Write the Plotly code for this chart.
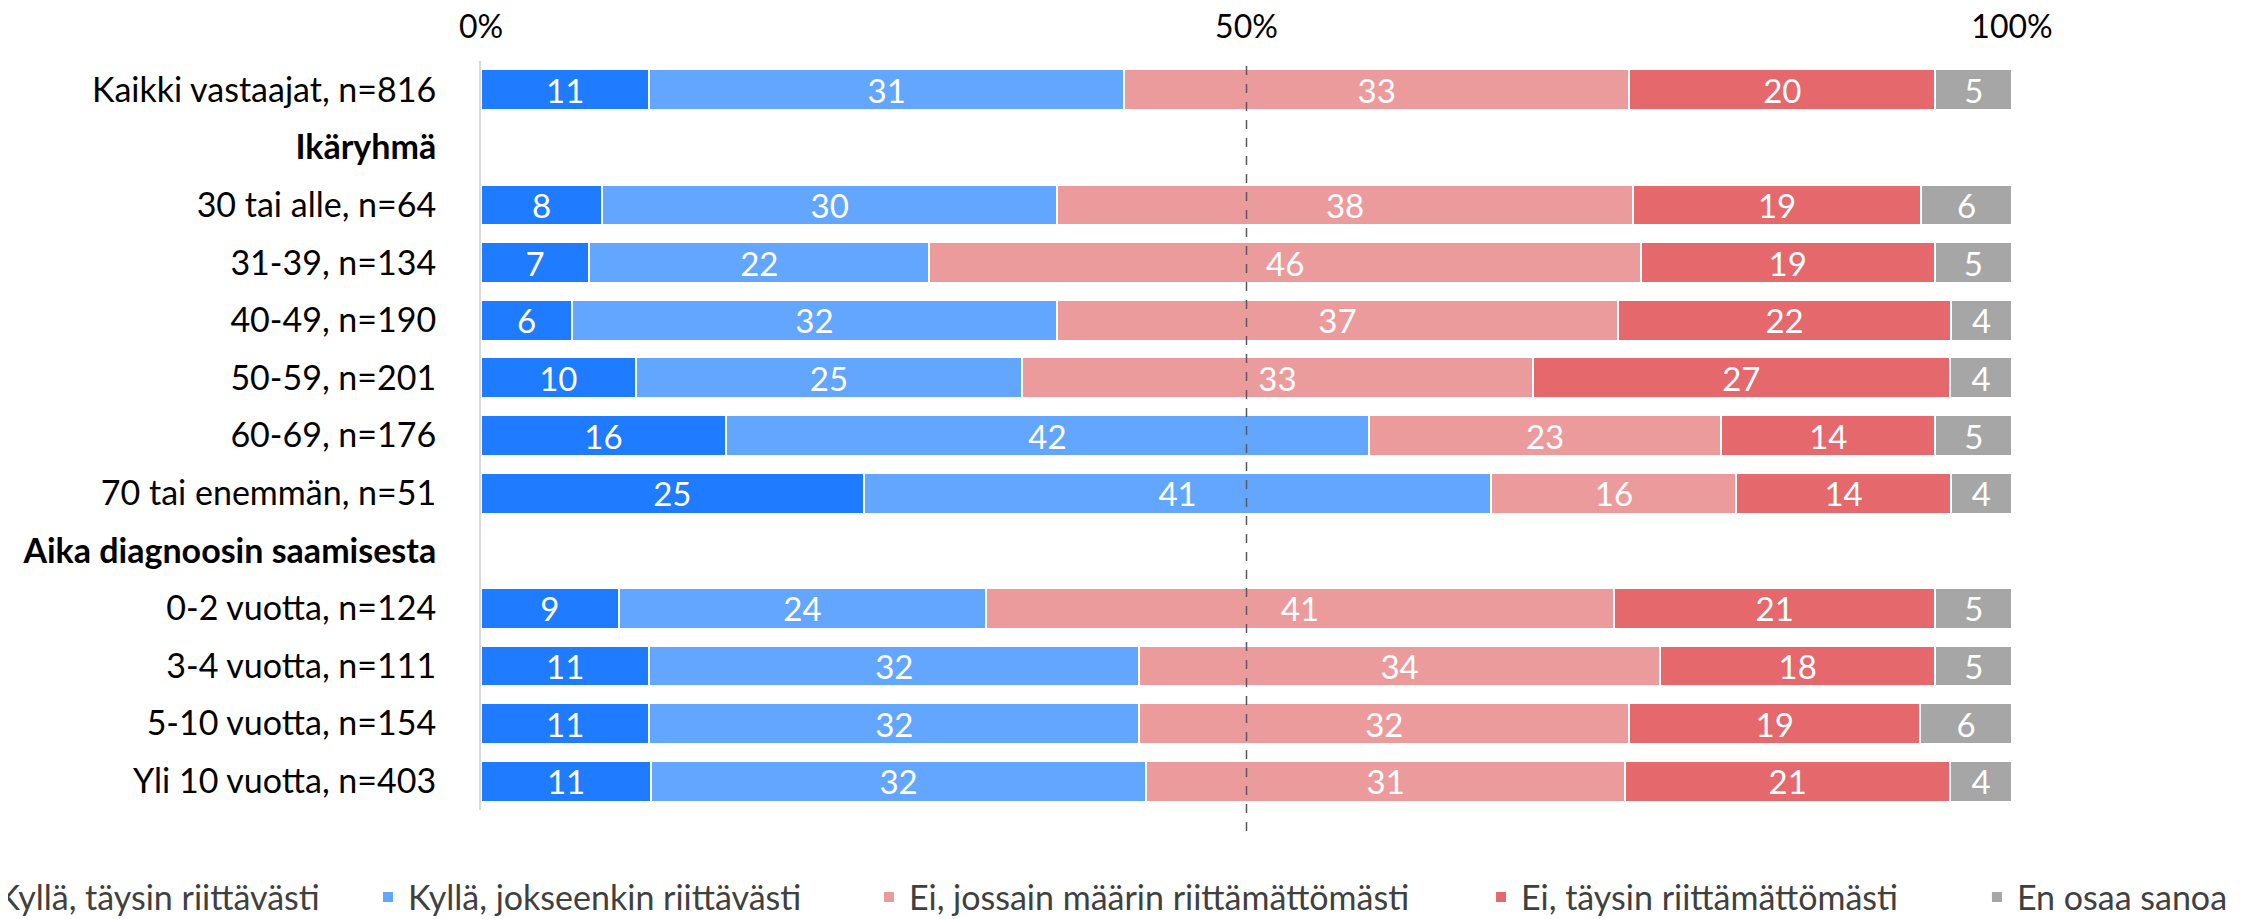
import plotly.graph_objects as go

categories = ['Kaikki vastaajat, n=816', '<b>Ikäryhmä</b>', '30 tai alle, n=64', '31-39, n=134',
              '40-49, n=190', '50-59, n=201', '60-69, n=176', '70 tai enemmän, n=51',
              '<b>Aika diagnoosin saamisesta</b>', '0-2 vuotta, n=124', '3-4 vuotta, n=111',
              '5-10 vuotta, n=154', 'Yli 10 vuotta, n=403']

series_names = ['Kyllä, täysin riittävästi', 'Kyllä, jokseenkin riittävästi',
                'Ei, jossain määrin riittämättömästi', 'Ei, täysin riittämättömästi', 'En osaa sanoa']

taysin_kylla = [11, None, 8, 7, 6, 10, 16, 25, None, 9, 11, 11, 11]
jokseenkin_kylla = [31, None, 30, 22, 32, 25, 42, 41, None, 24, 32, 32, 32]
jossain_ei = [33, None, 38, 46, 37, 33, 23, 16, None, 41, 34, 32, 31]
taysin_ei = [20, None, 19, 19, 22, 27, 14, 14, None, 21, 18, 19, 21]
eos = [5, None, 6, 5, 4, 4, 5, 4, None, 5, 5, 6, 4]

x_ticks = [0, 50, 100]
x_labels = ['0%', '50%', '100%']

colors = ['#1f7bff', '#63a6ff', '#ec9b9d', '#e4686c', '#a6a6a6']
FONT = 'Lato, Calibri, sans-serif'
# one legend per series so every entry sits where it does in the original
legend_ids = ['legend', 'legend2', 'legend3', 'legend4', 'legend5']
legend_x = [-0.342, -0.0738, 0.2534, 0.6532, 0.9771]

fig = go.Figure()
for name, vals, col, lg in zip(series_names, [taysin_kylla, jokseenkin_kylla, jossain_ei, taysin_ei, eos],
                               colors, legend_ids):
    fig.add_trace(go.Bar(
        name=name, y=categories, x=vals, orientation='h', legend=lg, showlegend=True,
        marker=dict(color=col, line=dict(color='white', width=2)),
        text=[str(v) if v is not None else '' for v in vals],
        textposition='inside', insidetextanchor='middle', constraintext='none', textangle=0,
        textfont=dict(color='white', size=33, family=FONT),
        hoverinfo='skip',
    ))

fig.add_shape(type='line', xref='x', yref='paper', x0=50, x1=50, y0=-0.028, y1=0.995,
              line=dict(color='#595959', width=1.5, dash='dash'))

fig.update_layout(
    barmode='stack', barnorm='percent', bargap=0.29, showlegend=True,
    width=2248, height=919,
    margin=dict(l=473, r=244, t=53, b=117, autoexpand=False),
    plot_bgcolor='white', paper_bgcolor='white',
    font=dict(family=FONT, size=34, color='#000000'),
    xaxis=dict(side='top', range=[0, 100], tickmode='array', tickvals=x_ticks, ticktext=x_labels,
               showgrid=False, zeroline=False, showline=False, ticklabelstandoff=16,
               tickfont=dict(size=32)),
    yaxis=dict(categoryorder='array', categoryarray=categories, autorange='reversed',
               showline=True, linecolor='#d9d9d9', linewidth=2, showgrid=False,
               ticklabelstandoff=36, tickfont=dict(size=34)),
)
for lg, lx in zip(legend_ids, legend_x):
    fig.update_layout({lg: dict(orientation='h', xref='paper', yref='paper', x=lx, xanchor='left',
                                y=-0.078, yanchor='top', font=dict(size=34, color='#404040'),
                                bgcolor='rgba(0,0,0,0)')})

fig.write_html('out.html')
